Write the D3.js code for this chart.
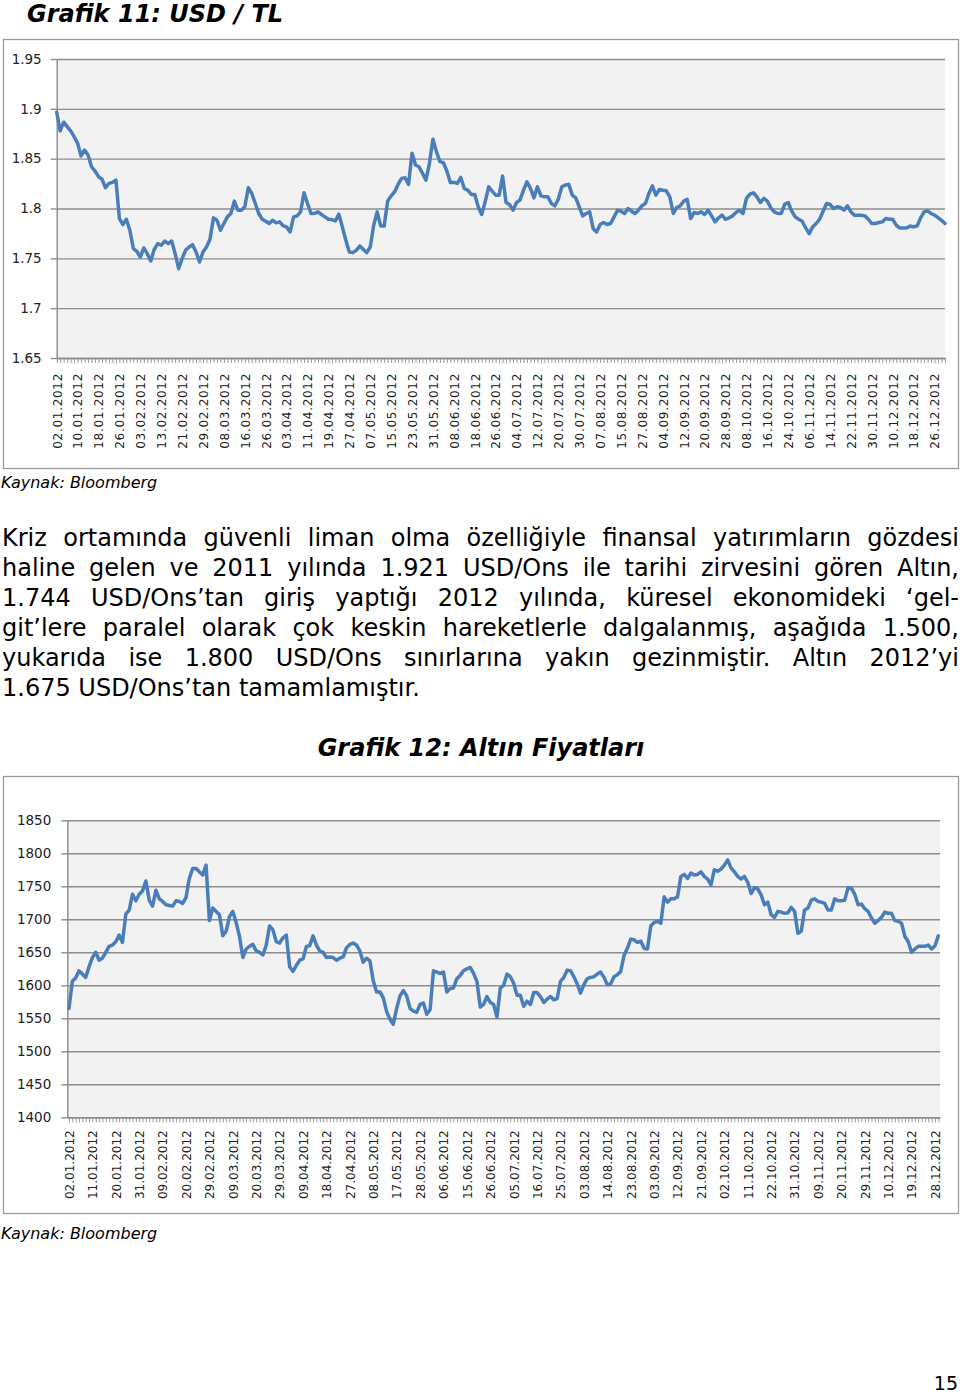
<!DOCTYPE html>
<html>
<head>
<meta charset="utf-8">
<script src="https://cdn.jsdelivr.net/npm/d3@7"></script>
<style>
  body { margin: 0; background: #fff; }
  #page { position: relative; width: 960px; height: 1396px; overflow: hidden; }
  svg { position: absolute; left: 0; top: 0; }
  #text { position: absolute; left: 2px; top: 523px; width: 957px;
          font-family: 'DejaVu Sans', Verdana, sans-serif; font-size: 24px; line-height: 30px; color: #000; }
  #text div { text-align: justify; text-align-last: justify; white-space: nowrap; }
  #text div.last { text-align-last: left; }
</style>
</head>
<body>
<div id="page">
  <svg id="chart"></svg>
  <div id="text">
    <div>Kriz ortamında güvenli liman olma özelliğiyle finansal yatırımların gözdesi</div>
    <div>haline gelen ve 2011 yılında 1.921 USD/Ons ile tarihi zirvesini gören Altın,</div>
    <div>1.744 USD/Ons’tan giriş yaptığı 2012 yılında, küresel ekonomideki ‘gel-</div>
    <div>git’lere paralel olarak çok keskin hareketlerle dalgalanmış, aşağıda 1.500,</div>
    <div>yukarıda ise 1.800 USD/Ons sınırlarına yakın gezinmiştir. Altın 2012’yi</div>
    <div class="last">1.675 USD/Ons’tan tamamlamıştır.</div>
  </div>
</div>
<script>
const usdValues = [
  1.8966,1.8779,1.8866,1.8822,1.8779,1.8721,1.8654,1.8527,1.8587,1.8537,
  1.8419,1.8376,1.8319,1.8295,1.8208,1.8252,1.8262,1.8285,1.7899,1.7839,
  1.7892,1.7782,1.7597,1.7570,1.7513,1.7604,1.7547,1.7473,1.7590,1.7648,
  1.7631,1.7674,1.7648,1.7674,1.7547,1.7396,1.7497,1.7580,1.7614,1.7637,
  1.7564,1.7463,1.7564,1.7614,1.7691,1.7906,1.7882,1.7782,1.7849,1.7916,
  1.7950,1.8074,1.7983,1.7983,1.8017,1.8208,1.8151,1.8050,1.7950,1.7892,
  1.7872,1.7849,
  1.7882,1.7856,1.7866,1.7825,1.7815,1.7765,1.7916,1.7926,1.7966,1.8158,
  1.8050,1.7950,1.7950,1.7966,1.7940,1.7916,1.7892,1.7889,1.7876,1.7943,
  1.7815,1.7681,1.7564,1.7557,1.7580,1.7624,1.7590,1.7557,1.7614,1.7832,
  1.7966,1.7825,1.7825,1.8074,1.8127,1.8168,1.8242,1.8302,1.8309,1.8242,
  1.8554,1.8436,1.8419,1.8352,1.8285,1.8453,1.8695,1.8570,1.8470,1.8460,
  1.8376,1.8262,1.8262,1.8252,1.8312,1.8201,1.8184,1.8141,1.8141,1.8017,
  1.7940,1.8067,1.8218,1.8174,1.8134,
  1.8134,1.8325,1.8060,1.8040,1.7983,1.8060,1.8084,1.8184,1.8268,1.8201,
  1.8107,1.8218,1.8127,1.8117,1.8117,1.8050,1.8027,1.8094,1.8218,1.8235,
  1.8242,1.8134,1.8107,1.8017,1.7926,1.7950,1.7966,1.7799,1.7765,1.7839,
  1.7859,1.7839,1.7849,1.7916,1.7983,1.7973,1.7950,1.8000,1.7973,1.7950,
  1.7983,1.8027,1.8050,1.8151,1.8228,1.8134,1.8191,1.8184,1.8178,1.8117,
  1.7950,1.8010,1.8027,1.8074,1.8091,1.7899,1.7960,1.7950,1.7966,1.7940,
  1.7983,1.7926,1.7866,1.7906,
  1.7933,1.7892,1.7906,1.7926,1.7960,1.7983,1.7950,1.8101,1.8144,1.8158,
  1.8117,1.8060,1.8101,1.8074,1.8007,1.7966,1.7950,1.7950,1.8044,1.8060,
  1.7973,1.7916,1.7892,1.7872,1.7805,1.7748,1.7815,1.7849,1.7892,1.7973,
  1.8050,1.8040,1.8000,1.8017,1.8010,1.7983,1.8027,1.7966,1.7933,1.7933,
  1.7933,1.7926,1.7892,1.7849,1.7849,1.7859,1.7866,1.7899,1.7892,1.7892,
  1.7832,1.7805,1.7805,1.7805,1.7825,1.7815,1.7825,1.7906,1.7966,1.7976,
  1.7950,1.7933,1.7909,1.7882,1.7849
];

const usdDateLabels = ['02.01.2012','10.01.2012','18.01.2012','26.01.2012','03.02.2012','13.02.2012',
  '21.02.2012','29.02.2012','08.03.2012','16.03.2012','26.03.2012','03.04.2012','11.04.2012','19.04.2012',
  '27.04.2012','07.05.2012','15.05.2012','23.05.2012','31.05.2012','08.06.2012','18.06.2012','26.06.2012',
  '04.07.2012','12.07.2012','20.07.2012','30.07.2012','07.08.2012','15.08.2012','27.08.2012','04.09.2012',
  '12.09.2012','20.09.2012','28.09.2012','08.10.2012','16.10.2012','24.10.2012','06.11.2012','14.11.2012',
  '22.11.2012','30.11.2012','10.12.2012','18.12.2012','26.12.2012'];
const usdTicks = [1.65, 1.7, 1.75, 1.8, 1.85, 1.9, 1.95];

const goldValues = [
  1565,1606,1611,1622,1617,1612,1628,1642,1650,1638,
  1641,1650,1659,1661,1666,1676,1665,1708,1714,1738,
  1728,1738,1743,1758,1729,1720,1744,1731,1727,1722,
  1721,1720,1728,1727,1724,1733,1762,1777,1777,1772,
  1767,1782,1698,1717,1712,1707,1675,1682,1704,1712,
  1695,1674,1642,1655,1659,1662,1652,1650,1646,1661,
  1690,1684,1666,1664,1672,1676,1628,
  1621,1630,1638,1640,1659,1660,1675,1661,1652,1650,
  1642,1643,1642,1638,1641,1643,1657,1662,1664,1661,
  1652,1635,1641,1637,1607,1590,1590,1581,1560,1549,
  1541,1565,1584,1592,1584,1565,1561,1559,1571,1573,
  1556,1563,1622,1620,1618,1620,1590,1595,1596,1610,
  1615,1622,1625,1627,1618,1606,1567,1571,1583,1574,
  1571,1552,1596,1600,1617,1613,
  1603,1585,1585,1568,1576,1571,1589,1589,1583,1574,
  1579,1583,1578,1580,1606,1612,1623,1622,1613,1602,
  1588,1601,1610,1612,1613,1617,1620,1612,1601,1602,
  1613,1616,1621,1645,1656,1670,1669,1665,1667,1656,
  1655,1690,1695,1697,1694,1734,1726,1731,1731,1734,
  1765,1768,1762,1770,1767,1768,1772,1765,1761,1752,
  1775,1773,1776,1782,1790,
  1778,1772,1765,1761,1765,1756,1739,1748,1746,1737,
  1722,1726,1707,1703,1712,1711,1709,1710,1718,1712,
  1679,1682,1714,1717,1729,1731,1727,1726,1724,1714,
  1714,1731,1728,1728,1729,1748,1747,1738,1722,1723,
  1716,1712,1702,1694,1698,1703,1711,1709,1709,1698,
  1697,1694,1674,1666,1650,1655,1659,1659,1659,1661,
  1655,1660,1675
];

const goldDateLabels = ['02.01.2012','11.01.2012','20.01.2012','31.01.2012','09.02.2012','20.02.2012',
  '29.02.2012','09.03.2012','20.03.2012','29.03.2012','09.04.2012','18.04.2012','27.04.2012','08.05.2012',
  '17.05.2012','28.05.2012','06.06.2012','15.06.2012','26.06.2012','05.07.2012','16.07.2012','25.07.2012',
  '03.08.2012','14.08.2012','23.08.2012','03.09.2012','12.09.2012','21.09.2012','02.10.2012','11.10.2012',
  '22.10.2012','31.10.2012','09.11.2012','20.11.2012','29.11.2012','10.12.2012','19.12.2012','28.12.2012'];
const goldTicks = [1400, 1450, 1500, 1550, 1600, 1650, 1700, 1750, 1800, 1850];

const width = 960;
const height = 1396;
const font = "'DejaVu Sans', Verdana, sans-serif";
const gridColor = '#8c8c8c';
const lineColor = '#4a7ebb';

let svg = d3.select('#chart')
    .attr('width', width)
    .attr('height', height)

let drawChart = (cfg) => {
    let g = svg.append('g')

    // outer frame
    g.append('rect')
        .attr('x', cfg.frame[0] + 0.5)
        .attr('y', cfg.frame[1] + 0.5)
        .attr('width', cfg.frame[2])
        .attr('height', cfg.frame[3])
        .attr('fill', '#fff')
        .attr('stroke', '#9a9a9a')
        .attr('stroke-width', 1.3)

    let xScale = d3.scalePoint()
        .domain(d3.range(cfg.values.length))
        .range([cfg.left, cfg.right])
        .padding(cfg.pad)

    let yScale = d3.scaleLinear()
        .domain([cfg.ticks[0], cfg.ticks[cfg.ticks.length - 1]])
        .range([cfg.bottom, cfg.top])

    g.append('rect')
        .attr('x', cfg.left)
        .attr('y', cfg.top)
        .attr('width', cfg.right - cfg.left)
        .attr('height', cfg.bottom - cfg.top)
        .attr('fill', '#f2f2f2')

    // gridlines
    let grid = g.append('g')
        .attr('transform', 'translate(' + cfg.left + ',0)')
        .call(d3.axisLeft(yScale).tickValues(cfg.ticks).tickSize(-(cfg.right - cfg.left)).tickFormat(''))
    grid.select('.domain').remove()
    grid.selectAll('line').attr('stroke', gridColor).attr('stroke-width', 1.4)

    // y axis
    let yAxis = g.append('g')
        .attr('transform', 'translate(' + cfg.left + ',0)')
        .call(d3.axisLeft(yScale).tickValues(cfg.ticks).tickSize(6).tickSizeOuter(0).tickPadding(cfg.yPad)
            .tickFormat(d => String(+d.toFixed(2))))
    yAxis.select('.domain').attr('stroke', gridColor).attr('stroke-width', 1.4)
    yAxis.selectAll('line').attr('stroke', gridColor).attr('stroke-width', 1.4)
    yAxis.selectAll('text')
        .style('font-family', font)
        .style('font-size', cfg.yFont + 'px')
        .attr('fill', '#222')

    // x axis with a tick on every point, a label on every step-th
    let xAxis = g.append('g')
        .attr('transform', 'translate(0,' + cfg.bottom + ')')
        .call(d3.axisBottom(xScale)
            .tickValues(xScale.domain())
            .tickSize(5)
            .tickSizeOuter(0)
            .tickFormat(i => i % cfg.step === 0 ? (cfg.labels[i / cfg.step] || '') : ''))
    xAxis.select('.domain').attr('stroke', gridColor).attr('stroke-width', 1.4)
    xAxis.selectAll('line').attr('stroke', '#8f8f8f').attr('stroke-width', 0.9)
    xAxis.selectAll('text')
        .attr('y', 0)
        .attr('x', -cfg.labelGap)
        .attr('dy', '0.36em')
        .attr('transform', 'rotate(-90)')
        .style('text-anchor', 'end')
        .style('font-family', font)
        .style('font-size', cfg.xFont + 'px')
        .style('letter-spacing', cfg.xSpacing + 'px')
        .attr('fill', '#222')

    let line = d3.line()
        .x((d, i) => xScale(i))
        .y(d => yScale(d))

    g.append('path')
        .datum(cfg.values)
        .attr('d', line)
        .attr('fill', 'none')
        .attr('stroke', lineColor)
        .attr('stroke-width', 3.5)
        .attr('stroke-linejoin', 'round')
        .attr('stroke-linecap', 'round')
}

let drawTexts = () => {
    svg.append('text')
        .attr('x', 27)
        .attr('y', 22)
        .style('font-family', font)
        .style('font-size', '24px')
        .style('font-weight', 'bold')
        .style('font-style', 'italic')
        .text('Grafik 11: USD / TL')

    svg.append('text')
        .attr('x', 481)
        .attr('y', 756)
        .attr('text-anchor', 'middle')
        .style('font-family', font)
        .style('font-size', '24px')
        .style('font-weight', 'bold')
        .style('font-style', 'italic')
        .text('Grafik 12: Altın Fiyatları')

    svg.selectAll('.source')
        .data([488, 1239])
        .enter()
        .append('text')
        .attr('class', 'source')
        .attr('x', 1)
        .attr('y', d => d)
        .style('font-family', font)
        .style('font-size', '16px')
        .style('font-style', 'italic')
        .text('Kaynak: Bloomberg')

    svg.append('text')
        .attr('x', 958)
        .attr('y', 1390)
        .attr('text-anchor', 'end')
        .style('font-family', font)
        .style('font-size', '19px')
        .text('15')
}

drawChart({
    values: usdValues, ticks: usdTicks, labels: usdDateLabels, step: 6,
    frame: [3, 39, 955, 429],
    left: 56.7, right: 945, top: 59, bottom: 358, pad: 0,
    yPad: 9, yFont: 13.5, xFont: 12, xSpacing: 0.7, labelGap: 15
});

drawChart({
    values: goldValues, ticks: goldTicks, labels: goldDateLabels, step: 7,
    frame: [3, 776, 955, 437],
    left: 67.3, right: 940, top: 820.3, bottom: 1117.3, pad: 0.5,
    yPad: 10, yFont: 13.5, xFont: 12, xSpacing: 0, labelGap: 13
});

drawTexts();
</script>
</body>
</html>
